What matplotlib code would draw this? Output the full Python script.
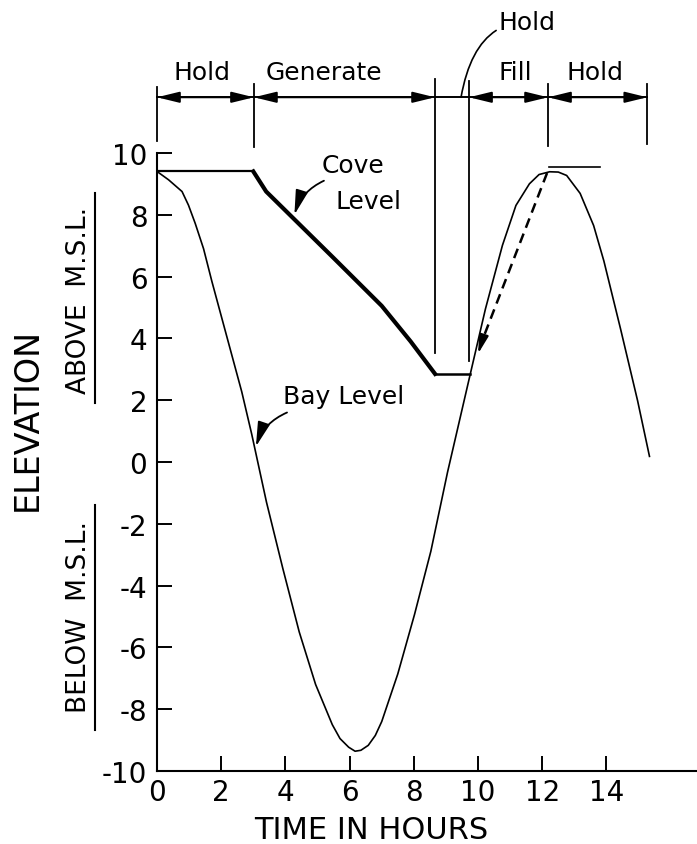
import numpy as np
import matplotlib
matplotlib.use('Agg')
import matplotlib.pyplot as plt
import matplotlib.transforms as mtransforms

plt.rcParams['font.family'] = ['DejaVu Sans']
plt.rcParams['axes.unicode_minus'] = False

# bay level (tide), hours / feet
bay_t = [0, 0.36, 0.78, 0.98, 1.19, 1.45, 1.71, 2.02, 2.33, 2.64, 2.95, 3.41, 3.92, 4.43,
         4.94, 5.46, 5.7, 5.97, 6.17, 6.35, 6.58, 6.8, 7.0, 7.5, 8.02, 8.53, 9.05, 9.71,
         10.23, 10.76, 11.18, 11.6, 11.9, 12.23, 12.5, 12.76, 13.18, 13.6, 13.92, 14.44,
         14.97, 15.34]
bay_y = [9.4, 9.13, 8.75, 8.31, 7.72, 6.9, 5.84, 4.65, 3.46, 2.27, 0.9, -1.3, -3.45, -5.5,
         -7.2, -8.5, -8.95, -9.23, -9.36, -9.33, -9.17, -8.85, -8.4, -6.86, -4.94, -2.89,
         -0.33, 2.63, 4.95, 7.01, 8.3, 9.0, 9.3, 9.39, 9.38, 9.27, 8.69, 7.65, 6.5, 4.3,
         1.98, 0.18]

# cove level
cove_hold_t = [0, 3.0]
cove_hold_y = [9.4, 9.4]
cove_gen_t = [3.0, 3.4, 5.5, 7.0, 7.9, 8.66]
cove_gen_y = [9.4, 8.75, 6.6, 5.05, 3.9, 2.85]
cove_low_t = [8.66, 9.75]
cove_low_y = [2.85, 2.85]
fill_t = [12.15, 10.1]
fill_y = [9.35, 3.85]

# operating phases on top
phase_edges = [0, 3.02, 8.66, 9.72, 12.18, 15.27]
phase_names = ['Hold', 'Generate', '', 'Fill', 'Hold']
phase_label_x = [1.4, 5.2, None, 11.15, 13.64]

fig = plt.figure(figsize=(6.97, 8.45), dpi=100)
ax = fig.add_axes([157 / 697, 73 / 845, 540 / 697, 1 - 73 / 845])
ax.set_xlim(0, 16.82)
ax.set_ylim(-10, 14.98)

for s in ['top', 'right']:
    ax.spines[s].set_visible(False)
ax.spines['left'].set_bounds(-10, 10)
ax.spines['left'].set_linewidth(1.5)
ax.spines['bottom'].set_linewidth(1.5)

ax.set_xticks(range(0, 15, 2))
ax.set_yticks(range(-10, 11, 2))
ax.tick_params(direction='in', length=11, width=1.4, labelsize=20)
ax.tick_params(axis='x', pad=5)
ax.tick_params(axis='y', pad=7)

# curves
ax.plot(bay_t, bay_y, color='black', lw=1.2, solid_joinstyle='round')
ax.plot(cove_hold_t, cove_hold_y, color='black', lw=1.6)
ax.plot(cove_gen_t, cove_gen_y, color='black', lw=3.0, solid_joinstyle='round')
ax.plot(cove_low_t, cove_low_y, color='black', lw=1.8)
ax.plot(fill_t, fill_y, color='black', lw=1.8, ls=(0, (4, 2.5)))
ax.annotate('', xy=(10.0, 3.5), xytext=(10.12, 3.9),
            arrowprops=dict(arrowstyle='-|>,head_length=0.8,head_width=0.2',
                            color='black', lw=1.5, mutation_scale=14, shrinkA=0, shrinkB=0))
ax.plot([12.2, 13.8], [9.55, 9.55], color='black', lw=1.2)

# phase bar
bar_y = 11.8
ax.plot([phase_edges[0], phase_edges[-1]], [bar_y, bar_y], color='black', lw=1.4, clip_on=False)
tops = [12.14, 12.23, 12.4, 12.33, 12.23, 12.23]
bots = [10.39, 10.19, 3.52, 3.27, 10.23, 10.29]
for x, t, b in zip(phase_edges, tops, bots):
    ax.plot([x, x], [b, t], color='black', lw=1.3, clip_on=False)
for i, name in enumerate(phase_names):
    if not name:
        continue
    ax.annotate('', xy=(phase_edges[i + 1], bar_y), xytext=(phase_edges[i], bar_y),
                arrowprops=dict(arrowstyle='<|-|>,head_length=0.9,head_width=0.22',
                                color='black', lw=1.4, mutation_scale=15,
                                shrinkA=0, shrinkB=0))
    ax.text(phase_label_x[i], 12.62, name, fontsize=18, ha='center', va='center')

# hold leader line
ax.annotate('Hold', xy=(9.47, bar_y), xytext=(10.65, 14.24), fontsize=18, va='center', ha='left',
            annotation_clip=False,
            arrowprops=dict(arrowstyle='-', color='black', lw=1.2, shrinkA=0, shrinkB=0,
                            connectionstyle='angle3,angleA=180,angleB=80'))

# curve labels
ax.text(6.1, 9.62, 'Cove', fontsize=18, ha='center', va='center')
ax.text(6.6, 8.45, 'Level', fontsize=18, ha='center', va='center')
ax.annotate('', xy=(4.28, 8.0), xytext=(5.2, 9.1),
            arrowprops=dict(arrowstyle='-|>,head_length=1.0,head_width=0.25', color='black',
                            lw=1.3, mutation_scale=15, shrinkA=0, shrinkB=0,
                            connectionstyle='arc3,rad=0.22'))
ax.text(5.8, 2.15, 'Bay Level', fontsize=18, ha='center', va='center')
ax.annotate('', xy=(3.08, 0.5), xytext=(4.05, 1.6),
            arrowprops=dict(arrowstyle='-|>,head_length=1.0,head_width=0.25', color='black',
                            lw=1.3, mutation_scale=15, shrinkA=0, shrinkB=0,
                            connectionstyle='arc3,rad=0.22'))

# axis titles
ax.text(6.67, -11.9, 'TIME IN HOURS', fontsize=22, ha='center', va='center', clip_on=False)
trans = mtransforms.blended_transform_factory(fig.transFigure, ax.transData)
fig.text(27 / 697, 426 / 845, 'ELEVATION', rotation=90, fontsize=24, ha='center', va='center')
ax.text(79 / 697, 5.27, 'ABOVE  M.S.L.', rotation=90, fontsize=19, ha='center', va='center',
        transform=trans, clip_on=False)
ax.text(79 / 697, -5.0, 'BELOW  M.S.L.', rotation=90, fontsize=19, ha='center', va='center',
        transform=trans, clip_on=False)
ax.plot([95 / 697, 95 / 697], [1.9, 8.7], color='black', lw=1.5, transform=trans, clip_on=False)
ax.plot([95 / 697, 95 / 697], [-8.67, -1.39], color='black', lw=1.5, transform=trans, clip_on=False)

fig.savefig('out.png', dpi=100)
